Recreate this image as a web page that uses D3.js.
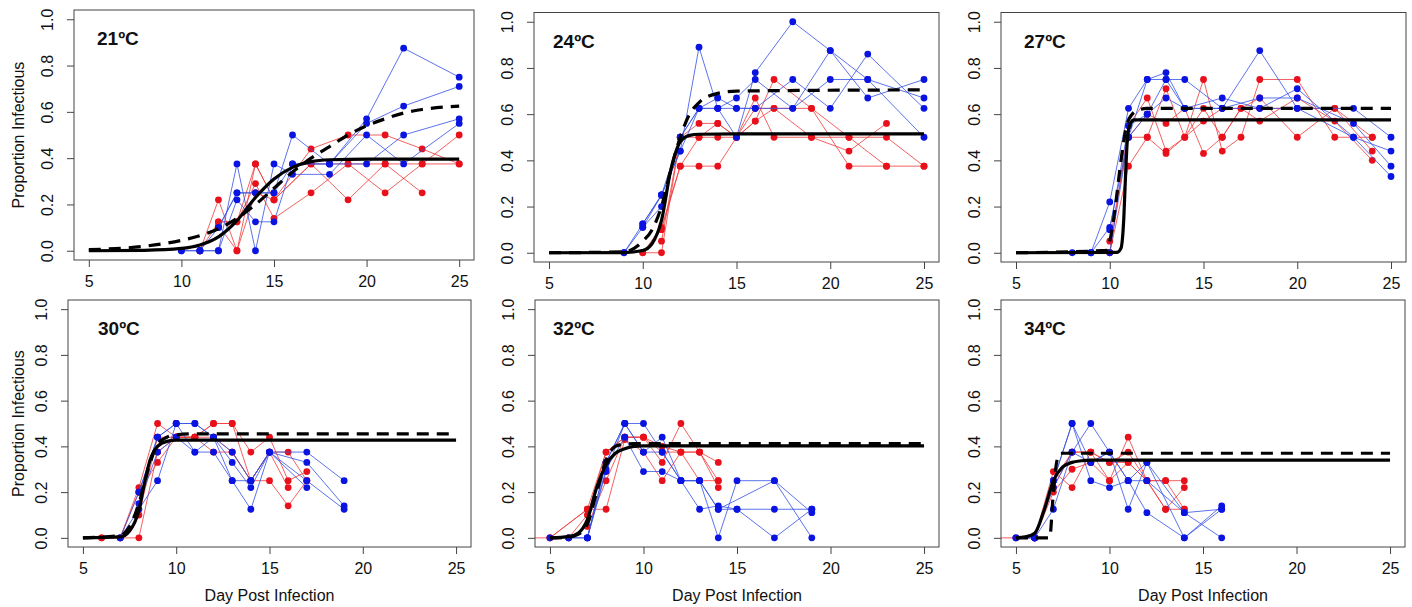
<!DOCTYPE html>
<html>
<head>
<meta charset="utf-8">
<script src="https://cdn.jsdelivr.net/npm/d3@7"></script>
<style>
  body { margin: 0; background: #fff; }
  text { font-family: "Liberation Sans", Arial, Helvetica, sans-serif; }
</style>
</head>
<body>
<div id="chart"></div>
<script>
// panel titles and axis ticks
const temps = ["21ºC", "24ºC", "27ºC", "30ºC", "32ºC", "34ºC"];
const xTicks = [5, 10, 15, 20, 25];
const yTicks = [0, 0.2, 0.4, 0.6, 0.8, 1.0];

// replicate series, [day, proportion infectious]
const red21 = [
  [[11,0],[12,0.22],[13,0],[14,0.375],[15,0.22],[17,0.44],[19,0.5],[21,0.5],[23,0.44],[25,0.375]],
  [[11,0],[12,0.125],[13,0.125],[14,0.29],[15,0.14],[17,0.25],[19,0.375],[21,0.25],[23,0.375],[25,0.5]],
  [[12,0.11],[13,0],[14,0.25],[15,0.22],[17,0.375],[19,0.22],[21,0.375],[23,0.25]],
  [[12,0.125],[13,0.125],[14,0.375],[15,0.22],[17,0.375],[19,0.375],[21,0.375],[23,0.375],[25,0.375]]
];
const blue21 = [
  [[10,0],[11,0],[12,0],[13,0.375],[14,0],[15,0.375],[16,0.33],[18,0.33],[20,0.5],[22,0.375],[25,0.55]],
  [[10,0],[11,0],[12,0.1],[13,0.25],[14,0.25],[15,0.25],[16,0.5],[18,0.375],[20,0.57],[22,0.875],[25,0.75]],
  [[11,0],[12,0],[13,0.22],[14,0.125],[15,0.125],[16,0.375],[18,0.375],[20,0.55],[22,0.625],[25,0.71]],
  [[12,0.1],[13,0.25],[14,0.25],[15,0.25],[16,0.375],[18,0.375],[20,0.375],[22,0.5],[25,0.57]]
];
const solid21 = [[5,0],[8,0.002],[10,0.01],[11,0.025],[12,0.06],[13,0.13],[14,0.23],[15,0.31],[16,0.36],[17,0.385],[18,0.393],[20,0.396],[25,0.396]];
const dashed21 = [[5,0.005],[7,0.012],[9,0.03],[10,0.045],[11,0.065],[12,0.095],[13,0.14],[14,0.2],[15,0.27],[16,0.34],[17,0.4],[18,0.45],[19,0.5],[20,0.54],[21,0.57],[22,0.595],[23,0.61],[25,0.625]];

const red24 = [
  [[10,0],[11,0],[12,0.5],[13,0.56],[14,0.56],[15,0.5],[16,0.67],[17,0.5],[19,0.5],[21,0.44],[23,0.56]],
  [[10,0],[11,0.11],[12,0.375],[13,0.375],[14,0.375],[15,0.5],[16,0.57],[17,0.75],[19,0.625],[21,0.375],[23,0.375],[25,0.375]],
  [[11,0.05],[12,0.5],[13,0.5],[14,0.5],[15,0.5],[16,0.625],[17,0.625],[19,0.5],[21,0.5],[23,0.5],[25,0.375]],
  [[11,0.1],[12,0.375],[13,0.5],[14,0.56],[15,0.5],[16,0.57],[17,0.625],[19,0.625],[21,0.5],[23,0.375]]
];
const blue24 = [
  [[9,0],[10,0.125],[11,0.25],[12,0.44],[13,0.89],[14,0.625],[15,0.5],[16,0.78],[18,1.0],[20,0.875],[22,0.75],[25,0.5]],
  [[9,0],[10,0.11],[11,0.25],[12,0.5],[13,0.625],[14,0.67],[15,0.625],[16,0.625],[18,0.75],[20,0.625],[22,0.86],[25,0.625]],
  [[10,0.11],[11,0.2],[12,0.5],[13,0.625],[14,0.625],[15,0.67],[16,0.75],[18,0.625],[20,0.875],[22,0.67],[25,0.75]],
  [[10,0.125],[11,0.25],[12,0.44],[13,0.625],[14,0.625],[15,0.625],[16,0.625],[18,0.625],[20,0.75],[22,0.75],[25,0.67]]
];
const solid24 = [[5,0],[9,0.001],[10,0.01],[10.5,0.04],[11,0.14],[11.5,0.36],[12,0.48],[12.5,0.508],[13,0.513],[15,0.515],[25,0.515]];
const dashed24 = [[5,0],[9,0.004],[10,0.05],[10.5,0.1],[11,0.2],[11.5,0.36],[12,0.5],[12.5,0.6],[13,0.65],[14,0.69],[15,0.7],[25,0.705]];

const red27 = [
  [[10,0],[11,0.375],[12,0.5],[13,0.71],[14,0.5],[15,0.75],[16,0.44],[17,0.5],[18,0.75],[20,0.75],[22,0.5],[24,0.5]],
  [[10,0],[11,0.55],[12,0.67],[13,0.44],[14,0.5],[15,0.625],[16,0.5],[17,0.625],[18,0.67],[20,0.5],[22,0.625],[24,0.44]],
  [[10,0.05],[11,0.5],[12,0.6],[13,0.56],[14,0.625],[15,0.43],[16,0.5],[17,0.625],[18,0.57],[20,0.67],[22,0.57],[24,0.4]],
  [[11,0.5],[12,0.5],[13,0.43],[15,0.57],[16,0.625],[18,0.625],[20,0.625],[22,0.625],[24,0.5]]
];
const blue27 = [
  [[8,0],[9,0],[10,0.22],[11,0.625],[12,0.75],[13,0.75],[14,0.75],[16,0.625],[18,0.875],[20,0.625],[23,0.625],[25,0.5]],
  [[9,0],[10,0.11],[11,0.5],[12,0.75],[13,0.78],[14,0.625],[16,0.67],[18,0.625],[20,0.71],[23,0.5],[25,0.44]],
  [[9,0],[10,0],[11,0.5],[12,0.6],[13,0.67],[14,0.625],[16,0.625],[18,0.67],[20,0.67],[23,0.56],[25,0.375]],
  [[10,0.1],[11,0.55],[12,0.6],[13,0.75],[14,0.625],[16,0.625],[18,0.625],[20,0.625],[23,0.5],[25,0.33]]
];
const solid27 = [[5,0],[10.4,0.002],[10.6,0.02],[10.75,0.15],[10.85,0.35],[10.95,0.5],[11.1,0.56],[11.3,0.575],[25,0.575]];
const dashed27 = [[5,0],[9.8,0.01],[10,0.05],[10.3,0.2],[10.6,0.4],[10.9,0.55],[11.2,0.6],[11.6,0.62],[12,0.625],[25,0.625]];

const red30 = [
  [[6,0],[7,0],[8,0.22],[9,0.5],[10,0.44],[11,0.44],[12,0.5],[13,0.5],[14,0.375],[15,0.44],[16,0.25],[17,0.29]],
  [[6,0],[8,0],[9,0.375],[10,0.44],[11,0.44],[12,0.375],[13,0.375],[14,0.25],[15,0.25],[16,0.14],[17,0.25]],
  [[7,0],[8,0.2],[9,0.33],[10,0.44],[11,0.44],[12,0.5],[13,0.5],[14,0.25],[15,0.375],[16,0.375],[17,0.25]],
  [[8,0.1],[9,0.44],[10,0.44],[11,0.44],[12,0.44],[13,0.375],[14,0.25],[15,0.375],[16,0.22]]
];
const blue30 = [
  [[7,0],[8,0.2],[9,0.44],[10,0.5],[11,0.375],[12,0.375],[13,0.25],[14,0.125],[15,0.375],[17,0.375],[19,0.25]],
  [[7,0],[8,0.125],[9,0.25],[10,0.5],[11,0.5],[12,0.44],[13,0.33],[14,0.22],[15,0.375],[17,0.33],[19,0.14]],
  [[8,0.15],[9,0.375],[10,0.44],[11,0.375],[12,0.44],[13,0.25],[14,0.25],[15,0.375],[17,0.25],[19,0.125]],
  [[8,0.2],[9,0.44],[10,0.5],[11,0.5],[12,0.44],[13,0.375],[14,0.25],[15,0.375],[17,0.22]]
];
const solid30 = [[5,0],[7,0.004],[7.5,0.03],[8,0.12],[8.3,0.24],[8.6,0.34],[9,0.4],[9.5,0.422],[10,0.427],[25,0.427]];
const dashed30 = [[5,0],[7,0.01],[7.5,0.05],[8,0.15],[8.5,0.3],[9,0.41],[9.5,0.44],[10,0.45],[11,0.455],[25,0.455]];

const red32 = [
  [[4,0],[5,0],[7,0.125],[8,0.375],[9,0.44],[10,0.44],[11,0.33],[12,0.5],[13,0.375],[14,0.22]],
  [[5,0],[7,0.125],[8,0.125],[9,0.43],[10,0.375],[11,0.25],[12,0.375],[13,0.375],[14,0.33]],
  [[6,0],[7,0.05],[8,0.25],[9,0.44],[10,0.44],[11,0.4],[12,0.375],[13,0.25],[14,0.25]],
  [[6,0],[7,0.1],[8,0.375],[9,0.44],[10,0.44],[11,0.375],[12,0.375],[13,0.375],[14,0.25]]
];
const blue32 = [
  [[5,0],[6,0],[7,0],[8,0.33],[9,0.5],[10,0.5],[11,0.375],[12,0.25],[13,0.25],[14,0],[15,0.25],[17,0.25],[19,0.11]],
  [[6,0],[7,0],[8,0.29],[9,0.5],[10,0.375],[11,0.44],[12,0.25],[13,0.125],[14,0.14],[15,0.125],[17,0.125],[19,0.125]],
  [[7,0],[8,0.3],[9,0.44],[10,0.29],[11,0.29],[12,0.25],[13,0.25],[14,0.125],[15,0.125],[17,0],[19,0.125]],
  [[7,0],[8,0.33],[9,0.5],[10,0.375],[11,0.375],[12,0.25],[13,0.25],[14,0.125],[17,0.25],[19,0]]
];
const solid32 = [[5,0],[6,0.005],[6.5,0.02],[7,0.08],[7.5,0.22],[8,0.32],[8.5,0.37],[9,0.39],[9.5,0.4],[10,0.402],[25,0.402]];
const dashed32 = [[5,0],[6,0.003],[6.5,0.015],[7,0.06],[7.5,0.2],[8,0.34],[8.5,0.4],[9,0.41],[9.5,0.412],[25,0.412]];

const red34 = [
  [[4,0],[5,0],[6,0],[7,0.29],[8,0.22],[9,0.375],[10,0.25],[11,0.44],[12,0.25],[13,0.25],[14,0.25]],
  [[6,0],[7,0.22],[8,0.375],[9,0.375],[10,0.33],[11,0.375],[12,0.25],[13,0.125],[14,0.22]],
  [[6,0],[7,0.25],[8,0.375],[9,0.375],[10,0.33],[11,0.33],[12,0.25],[13,0.25],[14,0.125]],
  [[6,0],[7,0.2],[8,0.3],[9,0.33],[10,0.25],[11,0.33],[12,0.25],[13,0.125],[14,0.125]]
];
const blue34 = [
  [[5,0],[6,0],[7,0.25],[8,0.5],[9,0.25],[10,0.22],[11,0.25],[12,0.33],[14,0.11],[16,0]],
  [[5,0],[6,0],[7,0.125],[8,0.375],[9,0.5],[10,0.375],[11,0.125],[12,0.33],[14,0],[16,0.125]],
  [[6,0],[7,0.22],[8,0.375],[9,0.33],[10,0.375],[11,0.25],[12,0.11],[14,0],[16,0.14]],
  [[6,0],[7,0.25],[8,0.5],[9,0.33],[10,0.375],[11,0.25],[12,0.25],[14,0.11],[16,0.125]]
];
const solid34 = [[5,0],[5.5,0.004],[6,0.02],[6.5,0.12],[7,0.25],[7.5,0.31],[8,0.33],[8.5,0.337],[9,0.34],[25,0.34]];
const dashed34 = [[5,0],[6.8,0],[7.0,0.2],[7.2,0.34],[7.4,0.37],[25,0.37]];

const panels = [
  { title: temps[0], red: red21, blue: blue21, solid: solid21, dashed: dashed21 },
  { title: temps[1], red: red24, blue: blue24, solid: solid24, dashed: dashed24 },
  { title: temps[2], red: red27, blue: blue27, solid: solid27, dashed: dashed27 },
  { title: temps[3], red: red30, blue: blue30, solid: solid30, dashed: dashed30 },
  { title: temps[4], red: red32, blue: blue32, solid: solid32, dashed: dashed32 },
  { title: temps[5], red: red34, blue: blue34, solid: solid34, dashed: dashed34 }
];

// plot boxes [left, top, right, bottom] in page pixels
const boxes = [
  [74, 10, 474, 260], [534, 12.5, 939, 262], [1001, 12.5, 1406, 262],
  [68, 300, 471, 547], [535, 300, 939, 547], [1001, 300, 1405, 547]
];
const titleDx = [23, 19, 23, 30, 18, 23];

const svg = d3.select("#chart")
  .append("svg")
  .attr("width", 1412)
  .attr("height", 607);

const redLine = "#f03a3a", redDot = "#e8101a";
const blueLine = "#3450e6", blueDot = "#0a14e0";

panels.forEach((p, i) => {
  const [left, top, right, bottom] = boxes[i];
  // R style: 4% padding around the data range
  const x = d3.scaleLinear().domain([4.2, 25.8]).range([left, right]);
  const y = d3.scaleLinear().domain([-0.04, 1.04]).range([bottom, top]);
  const g = svg.append("g");

  g.append("clipPath")
    .attr("id", "clip" + i)
    .append("rect")
    .attr("x", left).attr("y", top)
    .attr("width", right - left).attr("height", bottom - top);

  const plot = g.append("g").attr("clip-path", `url(#clip${i})`);
  const line = d3.line().x(d => x(d[0])).y(d => y(d[1]));
  const smooth = d3.line().x(d => x(d[0])).y(d => y(d[1])).curve(d3.curveMonotoneX);

  const drawReps = (reps, lc, pc) => {
    plot.selectAll(null)
      .data(reps)
      .enter()
      .append("path")
      .attr("d", line)
      .attr("fill", "none")
      .attr("stroke", lc)
      .attr("stroke-opacity", 0.8)
      .attr("stroke-width", 1);
    plot.selectAll(null)
      .data(reps.flat())
      .enter()
      .append("circle")
      .attr("cx", d => x(d[0]))
      .attr("cy", d => y(d[1]))
      .attr("r", 3.4)
      .attr("fill", pc);
  };
  drawReps(p.red, redLine, redDot);
  drawReps(p.blue, blueLine, blueDot);

  plot.append("path")
    .datum(p.dashed)
    .attr("d", smooth)
    .attr("fill", "none")
    .attr("stroke", "#000")
    .attr("stroke-width", 3.2)
    .attr("stroke-dasharray", "12,8");
  plot.append("path")
    .datum(p.solid)
    .attr("d", smooth)
    .attr("fill", "none")
    .attr("stroke", "#000")
    .attr("stroke-width", 3.2);

  // axes
  const xAxis = g.append("g")
    .attr("transform", `translate(0, ${bottom})`)
    .call(d3.axisBottom(x).tickValues(xTicks).tickSize(7).tickSizeOuter(0).tickPadding(9));
  const yAxis = g.append("g")
    .attr("transform", `translate(${left}, 0)`)
    .call(d3.axisLeft(y).tickValues(yTicks).tickSize(7).tickSizeOuter(0).tickFormat(d3.format(".1f")));
  yAxis.selectAll(".tick text")
    .attr("x", null)
    .attr("dy", null)
    .attr("text-anchor", "middle")
    .attr("transform", "translate(-21,0) rotate(-90)");
  [xAxis, yAxis].forEach(a => {
    a.select(".domain").remove();
    a.selectAll(".tick line").attr("stroke", "#444");
    a.selectAll(".tick text").attr("font-size", 16).attr("fill", "#111")
      .style("font-family", '"Liberation Sans", Arial, sans-serif');
  });

  g.append("rect")
    .attr("x", left).attr("y", top)
    .attr("width", right - left).attr("height", bottom - top)
    .attr("fill", "none")
    .attr("stroke", "#444")
    .attr("stroke-width", 1);

  g.append("text")
    .attr("x", left + titleDx[i])
    .attr("y", top + 35)
    .attr("font-size", 19)
    .attr("font-weight", "bold")
    .attr("fill", "#111")
    .text(p.title);

  if (i % 3 === 0) {
    g.append("text")
      .attr("transform", `translate(23.5, ${(top + bottom) / 2}) rotate(-90)`)
      .attr("text-anchor", "middle")
      .attr("font-size", 16)
      .attr("fill", "#111")
      .text("Proportion Infectious");
  }
  if (i >= 3) {
    g.append("text")
      .attr("x", (left + right) / 2)
      .attr("y", 601)
      .attr("text-anchor", "middle")
      .attr("font-size", 16)
      .attr("fill", "#111")
      .text("Day Post Infection");
  }
});
</script>
</body>
</html>
